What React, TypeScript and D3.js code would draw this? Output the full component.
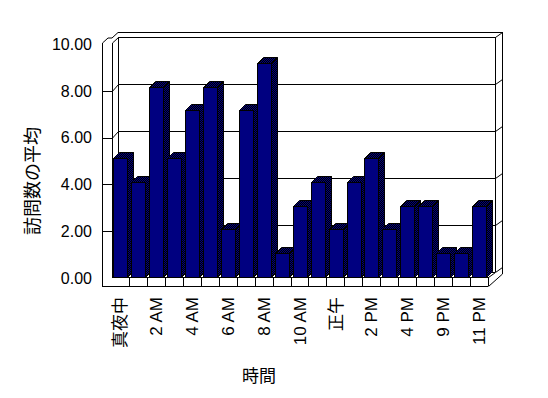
import React from 'react';
import * as d3 from 'd3';

const categories = ['真夜中', '1 AM', '2 AM', '3 AM', '4 AM', '5 AM', '6 AM', '7 AM', '8 AM', '9 AM', '10 AM', '11 AM',
  '正午', '1 PM', '2 PM', '3 PM', '4 PM', '6 PM', '9 PM', '10 PM', '11 PM'];
const visits = [5, 4, 8, 5, 7, 8, 2, 7, 9, 1, 3, 4, 2, 4, 5, 2, 3, 3, 1, 1, 3];
const yTicks = [0, 2, 4, 6, 8, 10];

const FONT = '"Liberation Sans", Arial, "Noto Sans CJK JP", sans-serif';

const App = () => {
  const x = d3.scaleBand<string>().domain(categories).range([111, 488]);
  const yFront = d3.scaleLinear().domain([0, 10]).range([277, 39]);
  const yAxis = d3.scaleLinear().domain([0, 10]).range([278, 44]);
  const yBack = d3.scaleLinear().domain([0, 10]).range([272, 37]);
  const fmt = d3.format('.2f');

  const step = x.step();
  const left = 102, inner = 112, backL = 118, backR = 495, outR = 502, outTop = 32;
  const floorTop = yFront(0), floorBot = 286, floorR = x.range()[1];
  const dx = 6, dy = -6;

  const ln = (x1, y1, x2, y2, k) => (
    <line key={k} x1={x1} y1={y1} x2={x2} y2={y2} stroke="#000" strokeWidth={1} shapeRendering="crispEdges" />
  );

  return (
    <svg width={548} height={398} style={{ position: 'absolute', left: 0, top: 0, background: '#fff' }}>
      <defs>
        <pattern id="dith" width={2} height={2} patternUnits="userSpaceOnUse">
          <rect width={2} height={2} fill="#000" />
          <rect width={1} height={1} fill="#000080" />
          <rect x={1} y={1} width={1} height={1} fill="#000080" />
        </pattern>
      </defs>

      {/* walls */}
      <g>
        {ln(left + 0.5, yAxis(10) - 1, left + 0.5, floorBot, 'lw1')}
        {ln(inner + 0.5, yAxis(10) - 1, inner + 0.5, floorTop, 'lw2')}
        <polyline points={`${left + 0.5},${yAxis(10) - 1} 108,38 ${inner},38 ${backL},${outTop + 0.5}`} fill="none" stroke="#000" />
        {ln(backL, outTop + 0.5, outR, outTop + 0.5, 'top')}
        {ln(backL + 0.5, yBack(10), backL + 0.5, yBack(0), 'bw1')}
        {ln(backR + 0.5, yBack(10), backR + 0.5, yBack(0), 'bw2')}
        {ln(outR + 0.5, outTop, outR + 0.5, 274, 'bw3')}
        {yTicks.map((v) => (
          <g key={v}>
            {v > 0 && v < 10 && ln(left, yAxis(v) + 0.5, inner, yAxis(v) + 0.5, 't' + v)}
            <line x1={inner + 0.5} y1={v === 10 ? yAxis(10) - 1 : v === 0 ? floorTop : yAxis(v) + 0.5} x2={backL + 0.5} y2={yBack(v) + 0.5} stroke="#000" />
            {ln(backL, yBack(v) + 0.5, backR, yBack(v) + 0.5, 'g' + v)}
            <line x1={backR + 0.5} y1={yBack(v) + 0.5} x2={outR + 0.5} y2={yBack(v) - 4.5} stroke="#000" />
          </g>
        ))}
      </g>

      {/* floor */}
      <g>
        {ln(inner, floorTop + 0.5, floorR, floorTop + 0.5, 'f1')}
        {ln(left, floorBot + 0.5, floorR, floorBot + 0.5, 'f2')}
        {categories.slice(1).map((c) => ln(x(c) + 0.5, floorTop, x(c) + 0.5, floorBot, 'd' + c))}
        {ln(floorR + 0.5, floorTop, floorR + 0.5, floorBot, 'f3')}
        <line x1={floorR + 0.5} y1={floorBot + 0.5} x2={outR + 0.5} y2={274} stroke="#000" />
        <line x1={floorR + 0.5} y1={floorTop + 0.5} x2={backR + 0.5} y2={yBack(0) + 0.5} stroke="#000" />
      </g>

      {/* bars */}
      <g stroke="#000" strokeWidth={1}>
        {categories.map((c, i) => {
          const bx = Math.round(x(c) + step * 0.12) + 0.5;
          const bw = Math.round(step * 0.8);
          const top = Math.round(yFront(visits[i])) + 0.5;
          const bot = floorTop + 0.5;
          return (
            <g key={c}>
              <polygon points={`${bx + bw},${bot} ${bx + bw + dx},${bot + dy} ${bx + bw + dx},${top + dy} ${bx + bw},${top}`} fill="url(#dith)" />
              <polygon points={`${bx},${top} ${bx + dx},${top + dy} ${bx + bw + dx},${top + dy} ${bx + bw},${top}`} fill="url(#dith)" />
              <rect x={bx} y={top} width={bw} height={bot - top} fill="#000080" />
            </g>
          );
        })}
      </g>

      {/* y tick labels */}
      <g fontFamily={FONT} fontSize={16} fill="#000">
        {yTicks.map((v) => (
          <text key={v} x={92} y={yAxis(v)} dy="0.36em" textAnchor="end">{fmt(v)}</text>
        ))}
      </g>

      {/* x tick labels, every other category */}
      <g fontFamily={FONT} fontSize={17} fill="#000">
        {categories.map((c, i) => i % 2 === 0 && (
          <text key={c} transform={`translate(${x(c) + step / 2},297) rotate(-90)`} textAnchor="end" dy="0.36em">{c}</text>
        ))}
      </g>

      <text transform="translate(33,181) rotate(-90)" textAnchor="middle" dy="0.36em" fontFamily={FONT} fontSize={18}>訪問数の平均</text>
      <text x={259} y={376} textAnchor="middle" dy="0.36em" fontFamily={FONT} fontSize={17}>時間</text>
    </svg>
  );
};

export default App;
